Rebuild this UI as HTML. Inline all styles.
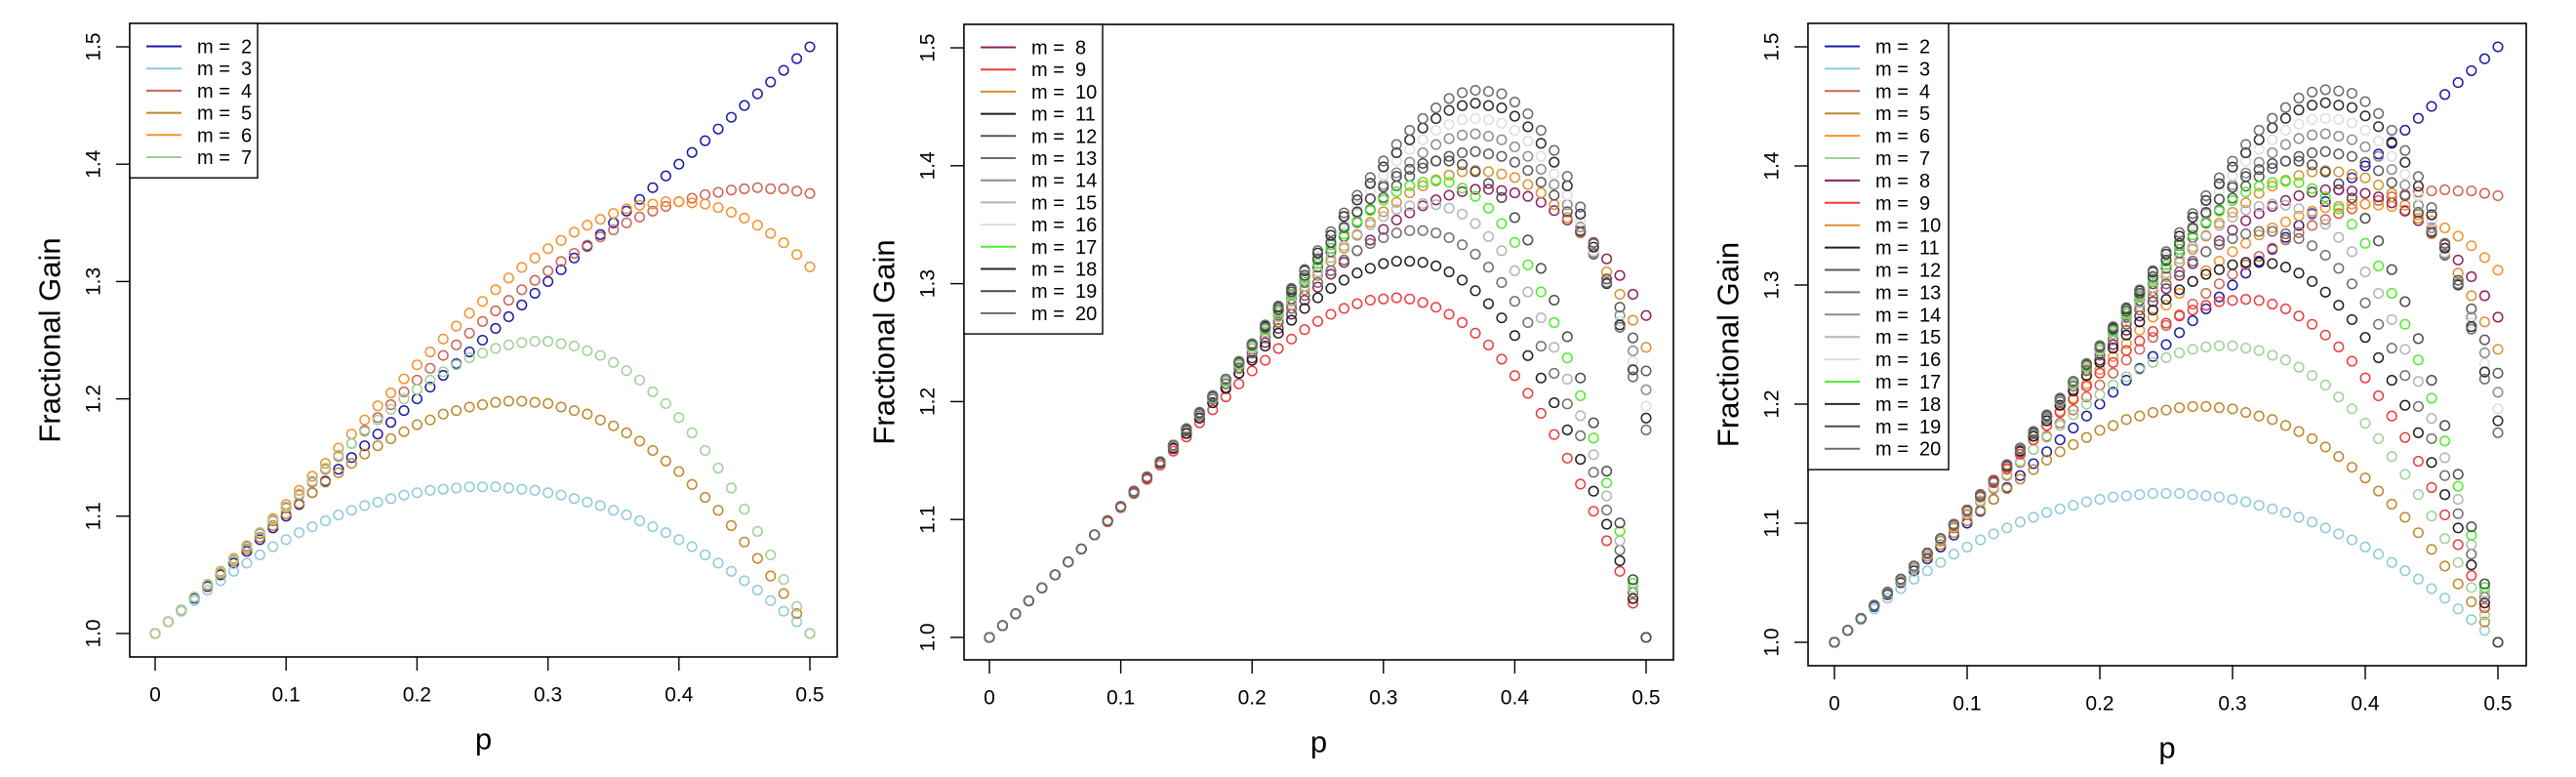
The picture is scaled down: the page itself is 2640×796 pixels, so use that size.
<!DOCTYPE html>
<html><head><meta charset="utf-8"><title>Fractional Gain vs p</title>
<style>
html,body{margin:0;padding:0;background:#fff;}
svg{display:block;font-family:"Liberation Sans",Arial,sans-serif;}
</style></head>
<body>
<svg id="chart" width="2640" height="796" viewBox="0 0 2640 796" xmlns="http://www.w3.org/2000/svg"></svg>
<script>
const pValues = [0,0.01,0.02,0.03,0.04,0.05,0.06,0.07,0.08,0.09,0.10,0.11,0.12,0.13,0.14,0.15,0.16,0.17,0.18,0.19,0.20,0.21,0.22,0.23,0.24,0.25,0.26,0.27,0.28,0.29,0.30,0.31,0.32,0.33,0.34,0.35,0.36,0.37,0.38,0.39,0.40,0.41,0.42,0.43,0.44,0.45,0.46,0.47,0.48,0.49,0.50];
const xTickLabels = ["0","0.1","0.2","0.3","0.4","0.5"];
const xTickValues = [0,0.1,0.2,0.3,0.4,0.5];
const yTickLabels = ["1.0","1.1","1.2","1.3","1.4","1.5"];
const yTickValues = [1.0,1.1,1.2,1.3,1.4,1.5];
const mLabels = [2,3,4,5,6,7,8,9,10,11,12,13,14,15,16,17,18,19,20];

const g2 = [1,1.01,1.02,1.03,1.04,1.05,1.06,1.07,1.08,1.09,1.10,1.11,1.12,1.13,1.14,1.15,1.16,1.17,1.18,1.19,1.20,1.21,1.22,1.23,1.24,1.25,1.26,1.27,1.28,1.29,1.30,1.31,1.32,1.33,1.34,1.35,1.36,1.37,1.38,1.39,1.40,1.41,1.42,1.43,1.44,1.45,1.46,1.47,1.48,1.49,1.50];
const g3 = [1,1.010,1.019,1.028,1.037,1.045,1.053,1.060,1.067,1.074,1.080,1.086,1.091,1.096,1.101,1.105,1.109,1.112,1.115,1.118,1.120,1.122,1.123,1.124,1.125,1.125,1.125,1.124,1.123,1.122,1.120,1.118,1.115,1.112,1.109,1.105,1.101,1.096,1.091,1.086,1.080,1.074,1.067,1.060,1.053,1.045,1.037,1.028,1.019,1.010,1.000];
const g4 = [1,1.010,1.020,1.031,1.041,1.052,1.063,1.074,1.085,1.096,1.107,1.118,1.129,1.140,1.151,1.162,1.173,1.184,1.195,1.206,1.216,1.226,1.237,1.246,1.256,1.266,1.275,1.284,1.293,1.301,1.309,1.317,1.324,1.331,1.338,1.344,1.350,1.355,1.360,1.364,1.368,1.371,1.374,1.376,1.378,1.379,1.380,1.379,1.379,1.377,1.375];
const g5 = [1,1.010,1.020,1.031,1.041,1.051,1.062,1.072,1.082,1.092,1.102,1.111,1.120,1.129,1.137,1.145,1.153,1.160,1.166,1.172,1.178,1.182,1.187,1.190,1.193,1.195,1.197,1.198,1.198,1.197,1.196,1.193,1.190,1.187,1.182,1.177,1.171,1.164,1.156,1.147,1.138,1.127,1.116,1.105,1.092,1.078,1.064,1.049,1.034,1.017,1.000];
const g6 = [1,1.010,1.020,1.031,1.042,1.053,1.064,1.075,1.086,1.098,1.110,1.122,1.134,1.145,1.158,1.170,1.182,1.194,1.205,1.217,1.229,1.240,1.251,1.262,1.273,1.283,1.293,1.303,1.312,1.320,1.328,1.335,1.342,1.348,1.353,1.358,1.362,1.365,1.366,1.368,1.368,1.367,1.366,1.363,1.359,1.354,1.348,1.341,1.333,1.323,1.3125];
const g7 = [1,1.010,1.020,1.031,1.042,1.052,1.063,1.075,1.086,1.097,1.108,1.119,1.130,1.141,1.152,1.162,1.172,1.182,1.191,1.200,1.208,1.216,1.223,1.229,1.235,1.239,1.243,1.246,1.248,1.249,1.249,1.247,1.245,1.241,1.237,1.231,1.224,1.216,1.206,1.196,1.184,1.171,1.156,1.141,1.124,1.106,1.087,1.067,1.046,1.023,1.000];
const g8 = [1,1.010,1.020,1.031,1.042,1.053,1.064,1.075,1.087,1.099,1.111,1.123,1.135,1.148,1.160,1.173,1.186,1.199,1.212,1.224,1.237,1.250,1.262,1.274,1.286,1.297,1.308,1.318,1.328,1.337,1.346,1.354,1.360,1.366,1.371,1.375,1.378,1.380,1.380,1.379,1.377,1.374,1.369,1.362,1.354,1.345,1.334,1.321,1.307,1.291,1.273];
const g9 = [1,1.010,1.020,1.031,1.042,1.053,1.064,1.075,1.087,1.098,1.110,1.122,1.134,1.146,1.158,1.170,1.182,1.193,1.204,1.215,1.226,1.235,1.245,1.253,1.261,1.268,1.274,1.279,1.283,1.286,1.287,1.288,1.287,1.284,1.280,1.274,1.267,1.258,1.248,1.236,1.222,1.207,1.190,1.172,1.152,1.130,1.107,1.082,1.056,1.029,1.000];
const g10 = [1,1.010,1.020,1.031,1.042,1.053,1.064,1.075,1.087,1.099,1.111,1.123,1.136,1.149,1.162,1.175,1.188,1.202,1.215,1.229,1.242,1.255,1.269,1.282,1.295,1.307,1.319,1.330,1.341,1.352,1.361,1.369,1.377,1.383,1.388,1.392,1.395,1.396,1.395,1.393,1.390,1.384,1.377,1.367,1.356,1.343,1.327,1.310,1.291,1.269,1.246];
const g11 = [1,1.010,1.020,1.031,1.042,1.053,1.064,1.075,1.087,1.099,1.111,1.123,1.136,1.148,1.161,1.173,1.186,1.199,1.211,1.224,1.235,1.247,1.258,1.269,1.279,1.288,1.296,1.303,1.309,1.313,1.317,1.319,1.319,1.318,1.315,1.310,1.303,1.294,1.283,1.271,1.256,1.239,1.220,1.199,1.176,1.151,1.124,1.096,1.065,1.033,1.000];
const g12 = [1,1.010,1.020,1.031,1.042,1.053,1.064,1.075,1.087,1.099,1.111,1.124,1.136,1.149,1.162,1.176,1.189,1.203,1.217,1.231,1.245,1.259,1.273,1.287,1.301,1.314,1.327,1.340,1.352,1.363,1.373,1.383,1.391,1.398,1.404,1.408,1.411,1.412,1.410,1.408,1.403,1.396,1.386,1.375,1.361,1.344,1.325,1.304,1.280,1.254,1.226];
const g13 = [1,1.010,1.020,1.031,1.042,1.053,1.064,1.075,1.087,1.099,1.111,1.123,1.136,1.149,1.162,1.175,1.188,1.202,1.215,1.228,1.241,1.254,1.267,1.279,1.290,1.301,1.311,1.320,1.328,1.334,1.339,1.343,1.345,1.345,1.343,1.339,1.333,1.325,1.314,1.301,1.285,1.267,1.247,1.224,1.198,1.171,1.140,1.108,1.074,1.038,1.000];
const g14 = [1,1.010,1.020,1.031,1.042,1.053,1.064,1.075,1.087,1.099,1.111,1.124,1.136,1.149,1.163,1.176,1.190,1.204,1.218,1.233,1.247,1.262,1.276,1.291,1.305,1.320,1.333,1.347,1.360,1.372,1.384,1.394,1.403,1.411,1.418,1.423,1.426,1.427,1.425,1.422,1.416,1.408,1.397,1.384,1.367,1.348,1.326,1.301,1.273,1.243,1.210];
const g15 = [1,1.010,1.020,1.031,1.042,1.053,1.064,1.075,1.087,1.099,1.111,1.124,1.136,1.149,1.162,1.176,1.189,1.203,1.217,1.231,1.245,1.259,1.272,1.285,1.298,1.310,1.322,1.332,1.342,1.350,1.357,1.363,1.366,1.368,1.367,1.364,1.359,1.351,1.340,1.328,1.311,1.293,1.271,1.246,1.219,1.188,1.155,1.120,1.082,1.042,1.000];
const g16 = [1,1.010,1.020,1.031,1.042,1.053,1.064,1.075,1.087,1.099,1.111,1.124,1.136,1.149,1.163,1.176,1.190,1.204,1.219,1.233,1.248,1.263,1.278,1.293,1.308,1.323,1.338,1.352,1.366,1.379,1.392,1.404,1.414,1.422,1.430,1.435,1.439,1.440,1.439,1.436,1.430,1.421,1.408,1.393,1.375,1.353,1.328,1.300,1.268,1.234,1.196];
const g17 = [1,1.010,1.020,1.031,1.042,1.053,1.064,1.075,1.087,1.099,1.111,1.124,1.136,1.149,1.163,1.176,1.190,1.204,1.218,1.232,1.247,1.261,1.276,1.290,1.303,1.317,1.330,1.342,1.353,1.362,1.371,1.378,1.383,1.386,1.387,1.386,1.381,1.374,1.364,1.351,1.335,1.316,1.293,1.267,1.237,1.205,1.169,1.131,1.090,1.046,1.000];
const g18 = [1,1.010,1.020,1.031,1.042,1.053,1.064,1.075,1.087,1.099,1.111,1.124,1.136,1.149,1.163,1.177,1.190,1.205,1.219,1.234,1.249,1.264,1.280,1.295,1.311,1.326,1.341,1.357,1.371,1.385,1.399,1.411,1.422,1.432,1.440,1.447,1.451,1.453,1.451,1.449,1.442,1.433,1.419,1.403,1.383,1.359,1.331,1.300,1.265,1.227,1.186];
const g19 = [1,1.010,1.020,1.031,1.042,1.053,1.064,1.075,1.087,1.099,1.111,1.124,1.136,1.149,1.163,1.176,1.190,1.204,1.219,1.233,1.248,1.263,1.278,1.293,1.307,1.321,1.335,1.348,1.361,1.372,1.382,1.391,1.397,1.402,1.404,1.404,1.401,1.395,1.385,1.373,1.356,1.337,1.313,1.286,1.255,1.220,1.182,1.141,1.097,1.049,1.000];
const g20 = [1,1.010,1.020,1.031,1.042,1.053,1.064,1.075,1.087,1.099,1.111,1.124,1.136,1.149,1.163,1.177,1.191,1.205,1.219,1.234,1.249,1.265,1.281,1.296,1.312,1.328,1.344,1.360,1.375,1.390,1.404,1.418,1.430,1.440,1.449,1.457,1.462,1.464,1.463,1.461,1.454,1.444,1.430,1.413,1.391,1.365,1.335,1.301,1.263,1.221,1.176];

const seriesValues = [g2,g3,g4,g5,g6,g7,g8,g9,g10,g11,g12,g13,g14,g15,g16,g17,g18,g19,g20];
const seriesColors = ["#1a1aa6","#8ccbd6","#cd6352","#c0862a","#f7902e","#9fd197","#8b2160","#ee3b3b","#d9912f","#1e1e1e","#585858","#6e6e6e","#8c8c8c","#b4b4b4","#dedede","#4dee2a","#2a2a2a","#4a4a4a","#6a6a6a"];

const panels = [
  {id:"left", box:[133,24,858,673], x0:159, x1:830, y0:649, y1:48, first:0, last:5, legendW:131, pitch:22.7},
  {id:"middle", box:[988,25,1715,676], x0:1014, x1:1687, y0:653, y1:49, first:6, last:18, legendW:142, pitch:22.7},
  {id:"right", box:[1853,24,2589,682], x0:1880, x1:2560, y0:658, y1:48, first:0, last:18, legendW:144, pitch:22.9}
];

const NS = "http://www.w3.org/2000/svg";
const svg = document.getElementById("chart");
function mk(tag, attrs, parent){
  const e = document.createElementNS(NS, tag);
  for (const k in attrs) e.setAttribute(k, attrs[k]);
  (parent||svg).appendChild(e);
  return e;
}

panels.forEach(function(pn){
  const g = mk("g", {});
  
  
  const xs = function(p){ return pn.x0 + (p - 0) / 0.5 * (pn.x1 - pn.x0); };
  const ys = function(v){ return pn.y0 + (v - 1.0) / 0.5 * (pn.y1 - pn.y0); };
  const [L,T,R,B] = pn.box;

  // points
  const pts = mk("g", {fill:"none", "stroke-width":"1.5"}, g);
  
  
  for (let s = pn.first; s <= pn.last; s++){
    const sg = mk("g", {stroke: seriesColors[s]}, pts);
    
    
    const vals = seriesValues[s];
    for (let i = 0; i < pValues.length; i++){
      const c = mk("circle", {cx: xs(pValues[i]).toFixed(2), cy: ys(vals[i]).toFixed(2), r: 4.8}, sg);
      
      
    }
  }

  // box
  const box = mk("rect", {x:L, y:T, width:R-L, height:B-T, fill:"none", stroke:"#000", "stroke-width":"1.6"}, g);
  
  

  // x axis
  const xa = mk("g", {}, g);
  
  
  xTickValues.forEach(function(v, i){
    const x = xs(v);
    const tk = mk("line", {x1:x, x2:x, y1:B, y2:B+14, stroke:"#000", "stroke-width":"1.4"}, xa);
    
    
    const t = mk("text", {x:x, y:B+39, "font-size":"21", "text-anchor":"middle", "dominant-baseline":"central", fill:"#000"}, xa);
    t.textContent = xTickLabels[i];
    
    
  });
  const xt = mk("text", {x:(L+R)/2, y:B+84, "font-size":"31", "text-anchor":"middle", "dominant-baseline":"central", fill:"#000"}, g);
  xt.textContent = "p";
  
  

  // y axis
  const ya = mk("g", {}, g);
  
  
  yTickValues.forEach(function(v, i){
    const y = ys(v);
    const tk = mk("line", {x1:L-14, x2:L, y1:y, y2:y, stroke:"#000", "stroke-width":"1.4"}, ya);
    
    
    const t = mk("text", {x:0, y:0, "font-size":"21", "text-anchor":"middle", "dominant-baseline":"central", fill:"#000", transform:"translate(" + (L-37) + "," + y + ") rotate(-90)"}, ya);
    t.textContent = yTickLabels[i];
    
    
  });
  const yt = mk("text", {x:0, y:0, "font-size":"31", "text-anchor":"middle", "dominant-baseline":"central", fill:"#000", transform:"translate(" + (L-82) + "," + ((T+B)/2) + ") rotate(-90)"}, g);
  yt.textContent = "Fractional Gain";
  
  

  // legend
  const n = pn.last - pn.first + 1;
  const lg = mk("g", {}, g);
  
  
  const lh = n * pn.pitch + 22;
  const lr = mk("rect", {x:L, y:T, width:pn.legendW, height:lh, fill:"#fff", stroke:"#000", "stroke-width":"1.4"}, lg);
  
  
  for (let s = pn.first; s <= pn.last; s++){
    const k = s - pn.first;
    const y = T + 23.5 + k * pn.pitch;
    const ln = mk("line", {x1:L+17, x2:L+53, y1:y, y2:y, stroke:seriesColors[s], "stroke-width":"2"}, lg);
    
    
    const t = mk("text", {x:L+69, y:y+1, "font-size":"20", "dominant-baseline":"central", fill:"#000", "xml:space":"preserve", style:"white-space:pre"}, lg);
    t.textContent = "m =  " + mLabels[s];
    
    
  }
});
</script>
</body></html>
